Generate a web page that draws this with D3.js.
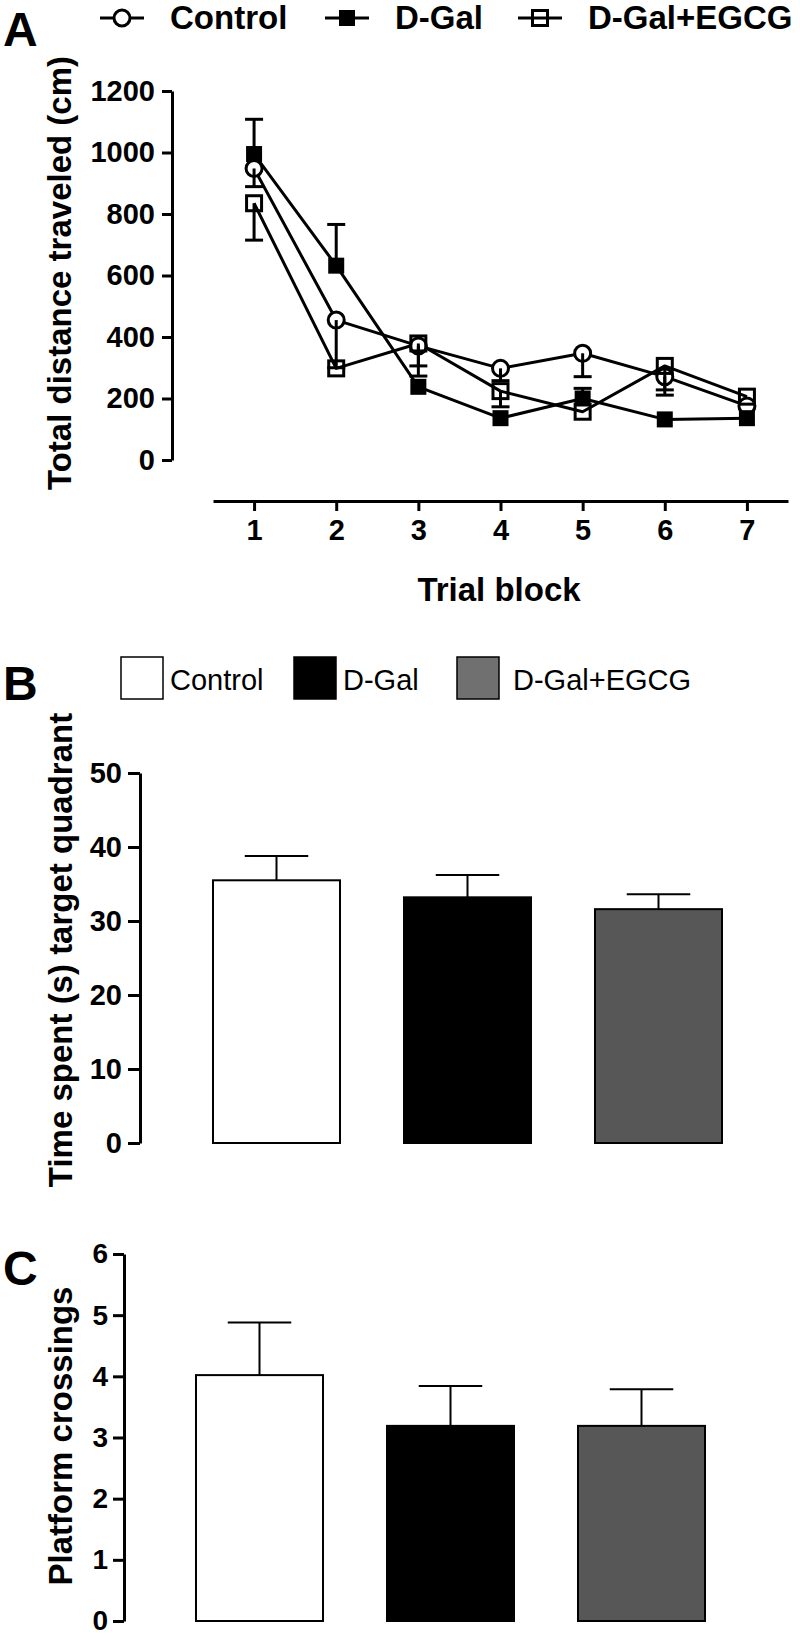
<!DOCTYPE html>
<html>
<head>
<meta charset="utf-8">
<script src="https://cdn.jsdelivr.net/npm/d3@7"></script>
<style>
  html, body { margin: 0; padding: 0; background: #fff; }
  svg { display: block; font-family: "Liberation Sans", Arial, Helvetica, sans-serif; }
</style>
</head>
<body>
<svg id="chart" width="800" height="1635"></svg>
<script>
// ---------- Panel A data ----------
const trialBlocks = [1, 2, 3, 4, 5, 6, 7];
const seriesNames = ["Control", "D-Gal", "D-Gal+EGCG"];
const controlDist = [948, 455, 371, 298, 347, 271, 176];
const dgalDist    = [995, 632, 238, 136, 200, 132, 136];
const egcgDist    = [835, 298, 379, 224, 157, 306, 206];
// visible error bars (upper / lower extents, 0 = not shown)
const controlErrUp = [0, 0, 0, 0, 0, 0, 0];
const controlErrDn = [59, 155, 65, 40, 76, 43, 0];
const dgalErrUp    = [113, 134, 0, 0, 33, 0, 0];
const dgalErrDn    = [0, 0, 0, 0, 0, 0, 0];
const egcgErrUp    = [0, 0, 0, 0, 0, 0, 0];
const egcgErrDn    = [120, 0, 106, 51, 0, 95, 0];
const yTicksA = [0, 200, 400, 600, 800, 1000, 1200];

// ---------- Panel B data ----------
const groups = ["Control", "D-Gal", "D-Gal+EGCG"];
const timeTarget = [35.5, 33.2, 31.6];
const timeTargetErr = [3.3, 3.0, 2.0];
const yTicksB = [0, 10, 20, 30, 40, 50];

// ---------- Panel C data ----------
const crossings = [4.02, 3.19, 3.19];
const crossingsErr = [0.86, 0.65, 0.60];
const yTicksC = [0, 1, 2, 3, 4, 5, 6];

const barFills = ["#ffffff", "#000000", "#575757"];
const legendFills = ["#ffffff", "#000000", "#707070"];

const svg = d3.select("#chart");
const FONT = '"Liberation Sans", Arial, Helvetica, sans-serif';
const fmtInt = d3.format("d");

function styleAxis(g, fontSize) {
  g.selectAll("path.domain").attr("stroke", "#000").attr("stroke-width", 3);
  g.selectAll(".tick line").attr("stroke", "#000").attr("stroke-width", 3);
  g.selectAll(".tick text").attr("fill", "#000").attr("font-size", fontSize)
    .attr("font-weight", "bold").attr("font-family", FONT);
}

// ================= Panel A =================
const xA = d3.scaleLinear().domain([0.5, 7.5]).range([213, 788]);
const yA = d3.scaleLinear().domain([0, 1200]).range([460, 91]);

svg.append("text").attr("x", 3).attr("y", 46).attr("font-size", 48)
  .attr("font-weight", "bold").text("A");

const gyA = svg.append("g").attr("transform", "translate(172,0)")
  .call(d3.axisLeft(yA).tickValues(yTicksA).tickSize(10).tickSizeOuter(0).tickPadding(7).tickFormat(fmtInt));
styleAxis(gyA, 29);

const gxA = svg.append("g").attr("transform", "translate(0,501)")
  .call(d3.axisBottom(xA).tickValues(trialBlocks).tickSize(10).tickSizeOuter(0).tickPadding(8).tickFormat(fmtInt));
styleAxis(gxA, 29);

svg.append("text").attr("x", 499).attr("y", 601).attr("text-anchor", "middle")
  .attr("font-size", 33).attr("font-weight", "bold").text("Trial block");

svg.append("text").attr("transform", "translate(71,273) rotate(-90)")
  .attr("text-anchor", "middle").attr("font-size", 33).attr("font-weight", "bold")
  .text("Total distance traveled (cm)");

const seriesA = [
  { name: seriesNames[0], vals: controlDist, up: controlErrUp, dn: controlErrDn, shape: "circle" },
  { name: seriesNames[1], vals: dgalDist, up: dgalErrUp, dn: dgalErrDn, shape: "filled" },
  { name: seriesNames[2], vals: egcgDist, up: egcgErrUp, dn: egcgErrDn, shape: "open" }
];

const line = d3.line().x((d, i) => xA(trialBlocks[i])).y(d => yA(d));
const gA = svg.append("g");
seriesA.forEach(s => {
  gA.append("path").attr("d", line(s.vals)).attr("fill", "none")
    .attr("stroke", "#000").attr("stroke-width", 3).attr("stroke-linejoin", "round");
});

function drawMarker(g, shape, cx, cy) {
  if (shape === "circle") {
    g.append("circle").attr("cx", cx).attr("cy", cy).attr("r", 8)
      .attr("fill", "#fff").attr("stroke", "#000").attr("stroke-width", 3);
  } else if (shape === "filled") {
    g.append("rect").attr("x", cx - 8).attr("y", cy - 8).attr("width", 16).attr("height", 16)
      .attr("fill", "#000");
  } else {
    g.append("rect").attr("x", cx - 7.5).attr("y", cy - 7.5).attr("width", 15).attr("height", 15)
      .attr("fill", "none").attr("stroke", "#000").attr("stroke-width", 3);
  }
}

seriesA.forEach(s => {
  s.vals.forEach((v, i) => drawMarker(gA, s.shape, xA(trialBlocks[i]), yA(v)));
});

// error bars drawn over the markers
seriesA.forEach(s => {
  s.vals.forEach((v, i) => {
    const cx = xA(trialBlocks[i]);
    [[s.up[i], 1], [s.dn[i], -1]].forEach(([e, dir]) => {
      if (!e) return;
      const yEnd = yA(v + dir * e);
      gA.append("line").attr("x1", cx).attr("x2", cx).attr("y1", yA(v)).attr("y2", yEnd)
        .attr("stroke", "#000").attr("stroke-width", 3);
      gA.append("line").attr("x1", cx - 9).attr("x2", cx + 9).attr("y1", yEnd).attr("y2", yEnd)
        .attr("stroke", "#000").attr("stroke-width", 3);
    });
  });
});

// legend A
const legA = [
  { mx: 122, tx: 170, shape: "circle" },
  { mx: 347, tx: 395, shape: "filled" },
  { mx: 540, tx: 588, shape: "open" }
];
legA.forEach((l, i) => {
  svg.append("line").attr("x1", l.mx - 22).attr("x2", l.mx + 22).attr("y1", 18).attr("y2", 18)
    .attr("stroke", "#000").attr("stroke-width", 3);
  drawMarker(svg, l.shape, l.mx, 18);
  svg.append("text").attr("x", l.tx).attr("y", 29).attr("font-size", 33)
    .attr("font-weight", "bold").text(seriesNames[i]);
});

// ================= Panel B =================
svg.append("text").attr("x", 3).attr("y", 700).attr("font-size", 48)
  .attr("font-weight", "bold").text("B");

const legB = [{ bx: 121, tx: 170 }, { bx: 294, tx: 343 }, { bx: 457, tx: 513 }];
legB.forEach((l, i) => {
  svg.append("rect").attr("x", l.bx).attr("y", 657).attr("width", 42).attr("height", 42)
    .attr("fill", legendFills[i]).attr("stroke", "#000").attr("stroke-width", 1.5);
  svg.append("text").attr("x", l.tx).attr("y", 690).attr("font-size", 29)
    .attr("font-weight", "normal").text(groups[i]);
});

function barPanel(opts) {
  const { axisX, y0, y1, domain, ticks, values, errs, bandRange, label, labelY, tickSize, tickPad, fontSize } = opts;
  const y = d3.scaleLinear().domain(domain).range([y0, y1]);
  const x = d3.scaleBand().domain(groups).range(bandRange).paddingInner(0.335).paddingOuter(0.1675);
  const g = svg.append("g");
  groups.forEach((gname, i) => {
    const bx = x(gname), bw = x.bandwidth();
    const cx = bx + bw / 2;
    const top = y(values[i] + errs[i]);
    g.append("line").attr("x1", cx).attr("x2", cx).attr("y1", y(values[i])).attr("y2", top)
      .attr("stroke", "#000").attr("stroke-width", 2);
    g.append("line").attr("x1", cx - bw / 4).attr("x2", cx + bw / 4).attr("y1", top).attr("y2", top)
      .attr("stroke", "#000").attr("stroke-width", 2);
    g.append("rect").attr("x", bx).attr("y", y(values[i])).attr("width", bw)
      .attr("height", y(0) - y(values[i]))
      .attr("fill", barFills[i]).attr("stroke", "#000").attr("stroke-width", 2);
  });
  const ga = svg.append("g").attr("transform", `translate(${axisX},0)`)
    .call(d3.axisLeft(y).tickValues(ticks).tickSize(tickSize).tickSizeOuter(0).tickPadding(tickPad).tickFormat(fmtInt));
  styleAxis(ga, fontSize);
  svg.append("text").attr("transform", `translate(72,${labelY}) rotate(-90)`)
    .attr("text-anchor", "middle").attr("font-size", 33).attr("font-weight", "bold").text(label);
}

barPanel({
  axisX: 140, y0: 1143, y1: 773, domain: [0, 50], ticks: yTicksB,
  values: timeTarget, errs: timeTargetErr, bandRange: [181, 754],
  label: "Time spent (s) target quadrant", labelY: 950, tickSize: 12, tickPad: 6, fontSize: 29
});

// ================= Panel C =================
svg.append("text").attr("x", 3).attr("y", 1285).attr("font-size", 48)
  .attr("font-weight", "bold").text("C");

barPanel({
  axisX: 124, y0: 1621, y1: 1254, domain: [0, 6], ticks: yTicksC,
  values: crossings, errs: crossingsErr, bandRange: [164, 737],
  label: "Platform crossings", labelY: 1436, tickSize: 11, tickPad: 5, fontSize: 28
});
</script>
</body>
</html>
